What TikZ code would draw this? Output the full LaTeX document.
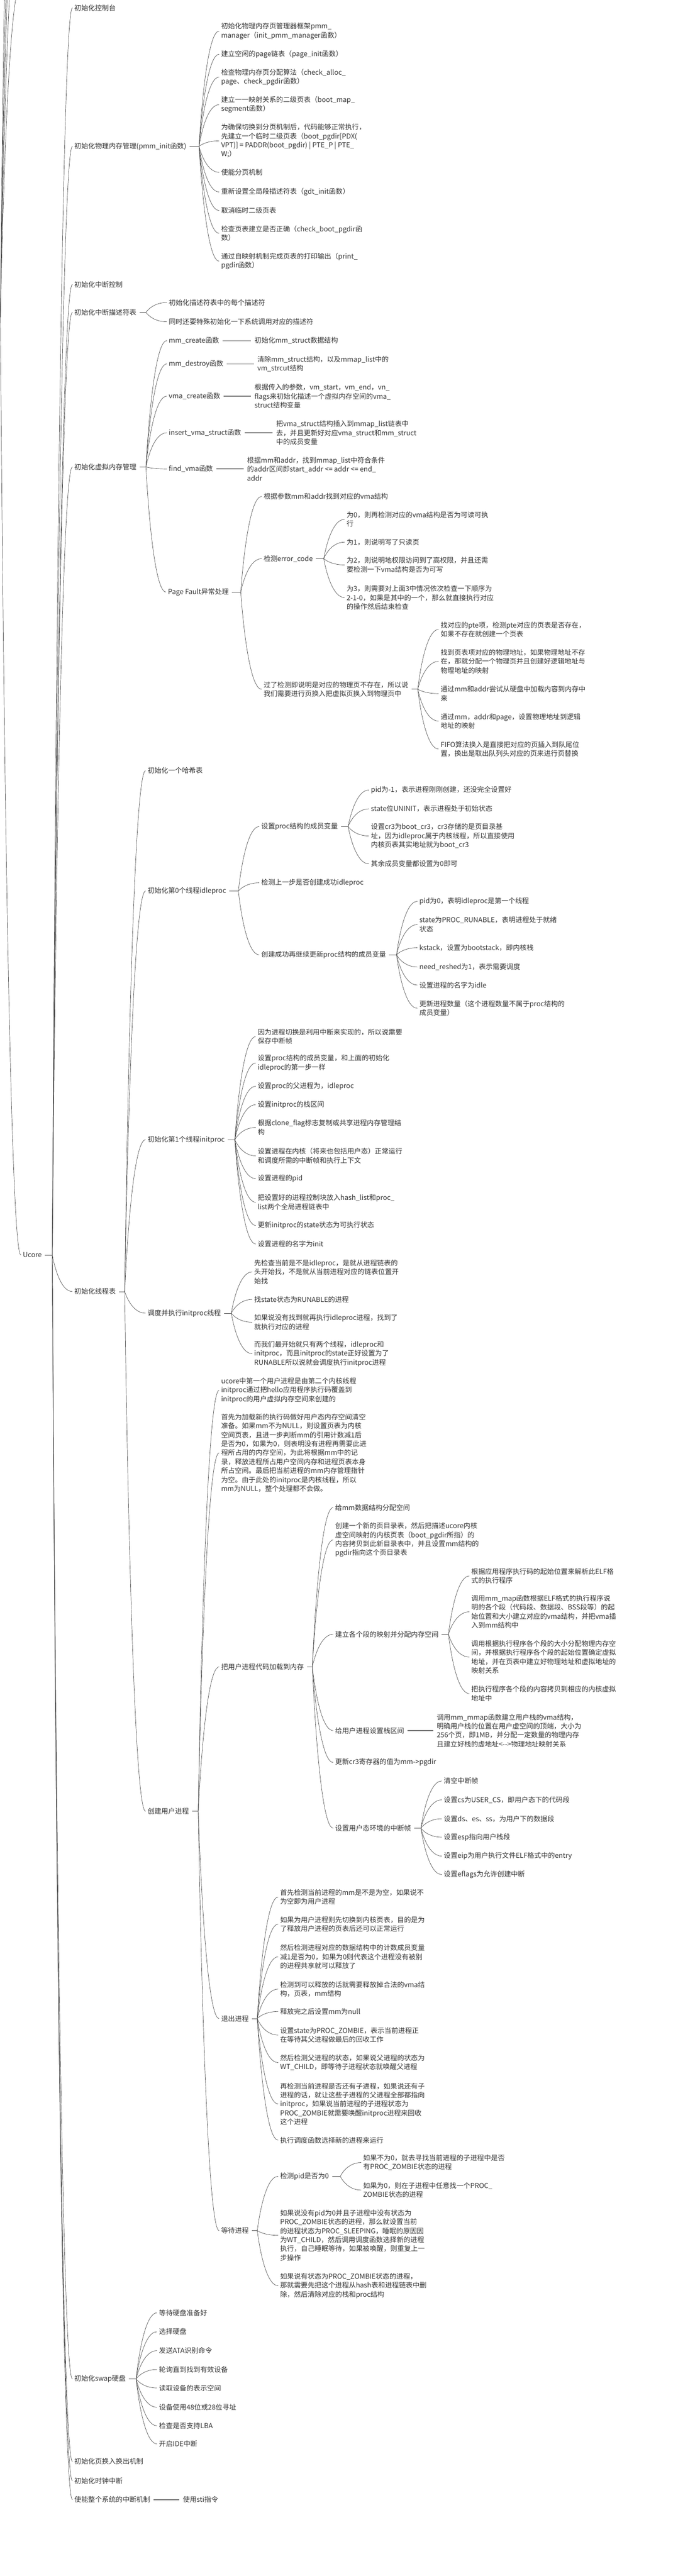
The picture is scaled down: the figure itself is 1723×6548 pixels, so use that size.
\documentclass[tikz,border=0pt]{standalone}
\usepackage{fontspec}
\setmainfont{Noto Sans CJK SC}
\usetikzlibrary{calc}
\tikzset{
  t/.style={anchor=west,inner sep=0pt,align=left,text=black!80,font=\fontsize{17.5}{22.8}\selectfont},
  conn/.style={draw=black!70,line width=0.9pt},
  single/.style={draw=black!55,line width=2pt},
  ghost/.style={inner sep=0pt,minimum size=0pt},
}
\newcommand{\stub}[2]{\draw[conn] ([xshift=8pt]#1.east) -- (#2);}
\newcommand{\cto}[2]{\draw[conn] let \p1=(#1), \p2=([xshift=-5pt]#2.west) in (\p1) .. controls (\p1) and ({\x1+0.3*(\x2-\x1)},\y2) .. (\p2);}
\newcommand{\fan}[2]{\foreach \cc in {#2} {\cto{#1}{\cc}}}
\newcommand{\one}[2]{\draw[single] ($(#1.east)+(9,0)$) -- ($(#1.east -| #2.west)+(-9,0)$);}
\begin{document}
\begin{tikzpicture}[x=1pt,y=-1pt]
\fill[white] (0,0) rectangle (1723,6548);
\useasboundingbox (0,0) rectangle (1723,6548);
\clip (0,0) rectangle (1723,6548);

% ---------- root (off-canvas parent) ----------
\coordinate (j0) at (1,806);
\draw[conn] (-20,806) -- (j0);
\node[ghost] (g1) at (58,-40) {};
\node[ghost] (g2) at (58,-270) {};
\node[ghost] (g3) at (58,-490) {};
\node[ghost] (g4) at (58,-710) {};
\node[ghost] (g5) at (58,-1070) {};
\node[t] (u) at (58,3190) {Ucore};
\fan{j0}{g1,g2,g3,g4,g5,u}

% ---------- level 1 ----------
\node[t] (a1) at (189,20) {初始化控制台};
\node[t] (a2) at (189,372) {初始化物理内存管理(pmm\_init函数)};
\node[t] (a3) at (189,723) {初始化中断控制};
\node[t] (a4) at (189,794) {初始化中断描述符表};
\node[t] (a5) at (189,1187) {初始化虚拟内存管理};
\node[t] (a6) at (189,3283) {初始化线程表};
\node[t] (a7) at (189,6047) {初始化swap硬盘};
\node[t] (a8) at (189,6257) {初始化页换入换出机制};
\node[t] (a9) at (189,6306) {初始化时钟中断};
\node[t] (a10) at (189,6354) {使能整个系统的中断机制};
\coordinate (jU) at (133,3190);
\stub{u}{jU}
\fan{jU}{a1,a2,a3,a4,a5,a6,a7,a8,a9,a10}

% ---------- pmm_init ----------
\node[t] (b1) at (562,79) {初始化物理内存页管理器框架pmm\_\\manager（init\_pmm\_manager函数）};
\node[t] (b2) at (562,138) {建立空闲的page链表（page\_init函数）};
\node[t] (b3) at (562,196) {检查物理内存页分配算法（check\_alloc\_\\page、check\_pgdir函数）};
\node[t] (b4) at (562,266) {建立一一映射关系的二级页表（boot\_map\_\\segment函数）};
\node[t] (b5) at (562,358) {为确保切换到分页机制后，代码能够正常执行，\\先建立一个临时二级页表（boot\_pgdir[PDX(\\VPT)] = PADDR(boot\_pgdir) | PTE\_P | PTE\_\\W;）};
\node[t] (b6) at (562,438) {使能分页机制};
\node[t] (b7) at (562,488) {重新设置全局段描述符表（gdt\_init函数）};
\node[t] (b8) at (562,535) {取消临时二级页表};
\node[t] (b9) at (562,593) {检查页表建立是否正确（check\_boot\_pgdir函\\数）};
\node[t] (b10) at (562,664) {通过自映射机制完成页表的打印输出（print\_\\pgdir函数）};
\coordinate (j2) at (506,372);
\stub{a2}{j2}
\fan{j2}{b1,b2,b3,b4,b5,b6,b7,b8,b9,b10}

% ---------- IDT ----------
\node[t] (c1) at (429,769) {初始化描述符表中的每个描述符};
\node[t] (c2) at (429,818) {同时还要特殊初始化一下系统调用对应的描述符};
\coordinate (j4) at (371,794);
\stub{a4}{j4}
\fan{j4}{c1,c2}

% ---------- VMM ----------
\node[t] (d1) at (429,866) {mm\_create函数};
\node[t] (d1c) at (647,866) {初始化mm\_struct数据结构};
\node[t] (d2) at (429,925) {mm\_destroy函数};
\node[t] (d2c) at (654,925) {清除mm\_struct结构，以及mmap\_list中的\\vm\_strcut结构};
\node[t] (d3) at (429,1007) {vma\_create函数};
\node[t] (d3c) at (647,1007) {根据传入的参数，vm\_start，vm\_end，vn\_\\flags来初始化描述一个虚拟内存空间的vma\_\\struct结构变量};
\node[t] (d4) at (429,1100) {insert\_vma\_struct函数};
\node[t] (d4c) at (702,1100) {把vma\_struct结构插入到mmap\_list链表中\\去，并且更新好对应vma\_struct和mm\_struct\\中的成员变量};
\node[t] (d5) at (429,1192) {find\_vma函数};
\node[t] (d5c) at (628,1192) {根据mm和addr，找到mmap\_list中符合条件\\的addr区间即start\_addr <= addr <= end\_\\addr};
\node[t] (d6) at (427,1505) {Page Fault异常处理};
\coordinate (j5) at (371,1187);
\stub{a5}{j5}
\fan{j5}{d1,d2,d3,d4,d5,d6}
\one{d1}{d1c}
\one{d2}{d2c}
\one{d3}{d3c}
\one{d4}{d4c}
\one{d5}{d5c}

\node[t] (e1) at (670,1262) {根据参数mm和addr找到对应的vma结构};
\node[t] (e2) at (670,1420) {检测error\_code};
\node[t] (e3) at (670,1752) {过了检测即说明是对应的物理页不存在，所以说\\我们需要进行页换入把虚拟页换入到物理页中};
\coordinate (j6) at (612,1505);
\stub{d6}{j6}
\fan{j6}{e1,e2,e3}

\node[t] (f1) at (881,1320) {为0，则再检测对应的vma结构是否为可读可执\\行};
\node[t] (f2) at (881,1378) {为1，则说明写了只读页};
\node[t] (f3) at (881,1436) {为2，则说明地权限访问到了高权限，并且还需\\要检测一下vma结构是否为可写};
\node[t] (f4) at (881,1519) {为3，则需要对上面3中情况依次检查一下顺序为\\2-1-0，如果是其中的一个，那么就直接执行对应\\的操作然后结束检查};
\coordinate (je2) at (823,1420);
\stub{e2}{je2}
\fan{je2}{f1,f2,f3,f4}

\node[t] (g1x) at (1120,1600) {找对应的pte项，检测pte对应的页表是否存在，\\如果不存在就创建一个页表};
\node[t] (g2x) at (1120,1681) {找到页表项对应的物理地址，如果物理地址不存\\在，那就分配一个物理页并且创建好逻辑地址与\\物理地址的映射};
\node[t] (g3x) at (1120,1763) {通过mm和addr尝试从硬盘中加载内容到内存中\\来};
\node[t] (g4x) at (1120,1833) {通过mm，addr和page，设置物理地址到逻辑\\地址的映射};
\node[t] (g5x) at (1120,1904) {FIFO算法换入是直接把对应的页插入到队尾位\\置，换出是取出队列头对应的页来进行页替换};
\coordinate (je3) at (1062,1752);
\stub{e3}{je3}
\fan{je3}{g1x,g2x,g3x,g4x,g5x}

% ---------- thread table ----------
\node[t] (h1) at (375,1959) {初始化一个哈希表};
\node[t] (h2) at (375,2265) {初始化第0个线程idleproc};
\node[t] (h3) at (375,2897) {初始化第1个线程initproc};
\node[t] (h4) at (375,3338) {调度并执行initproc线程};
\node[t] (h5) at (375,4604) {创建用户进程};
\coordinate (j6b) at (317,3283);
\stub{a6}{j6b}
\fan{j6b}{h1,h2,h3,h4,h5}

\node[t] (i1) at (664,2101) {设置proc结构的成员变量};
\node[t] (i2) at (664,2244) {检测上一步是否创建成功idleproc};
\node[t] (i3) at (664,2427) {创建成功再继续更新proc结构的成员变量};
\coordinate (jh2) at (606,2265);
\stub{h2}{jh2}
\fan{jh2}{i1,i2,i3}

\node[t] (k1) at (943,2008) {pid为-1，表示进程刚刚创建，还没完全设置好};
\node[t] (k2) at (943,2056) {state位UNINIT，表示进程处于初始状态};
\node[t] (k3) at (943,2125) {设置cr3为boot\_cr3，cr3存储的是页目录基\\址，因为idleproc属于内核线程，所以直接使用\\内核页表其实地址就为boot\_cr3};
\node[t] (k4) at (943,2196) {其余成员变量都设置为0即可};
\coordinate (ji1) at (885,2101);
\stub{i1}{ji1}
\fan{ji1}{k1,k2,k3,k4}

\node[t] (l1) at (1066,2291) {pid为0，表明idleproc是第一个线程};
\node[t] (l2) at (1066,2350) {state为PROC\_RUNABLE，表明进程处于就绪\\状态};
\node[t] (l3) at (1066,2409) {kstack，设置为bootstack，即内核栈};
\node[t] (l4) at (1066,2458) {need\_reshed为1，表示需要调度};
\node[t] (l5) at (1066,2504) {设置进程的名字为idle};
\node[t] (l6) at (1066,2563) {更新进程数量（这个进程数量不属于proc结构的\\成员变量）};
\coordinate (ji3) at (1008,2427);
\stub{i3}{ji3}
\fan{ji3}{l1,l2,l3,l4,l5,l6}

\node[t] (m1) at (655,2635) {因为进程切换是利用中断来实现的，所以说需要\\保存中断帧};
\node[t] (m2) at (655,2702) {设置proc结构的成员变量，和上面的初始化\\idleproc的第一步一样};
\node[t] (m3) at (655,2761) {设置proc的父进程为，idleproc};
\node[t] (m4) at (655,2808) {设置initproc的栈区间};
\node[t] (m5) at (655,2866) {根据clone\_flag标志复制或共享进程内存管理结\\构};
\node[t] (m6) at (655,2938) {设置进程在内核（将来也包括用户态）正常运行\\和调度所需的中断帧和执行上下文};
\node[t] (m7) at (655,2996) {设置进程的pid};
\node[t] (m8) at (655,3056) {把设置好的进程控制块放入hash\_list和proc\_\\list两个全局进程链表中};
\node[t] (m9) at (655,3115) {更新initproc的state状态为可执行状态};
\node[t] (m10) at (655,3162) {设置进程的名字为init};
\coordinate (jh3) at (597,2897);
\stub{h3}{jh3}
\fan{jh3}{m1,m2,m3,m4,m5,m6,m7,m8,m9,m10}

\node[t] (n1) at (646,3233) {先检查当前是不是idleproc，是就从进程链表的\\头开始找，不是就从当前进程对应的链表位置开\\始找};
\node[t] (n2) at (646,3303) {找state状态为RUNABLE的进程};
\node[t] (n3) at (646,3361) {如果说没有找到就再执行idleproc进程，找到了\\就执行对应的进程};
\node[t] (n4) at (646,3441) {而我们最开始就只有两个线程，idleproc和\\initproc，而且initproc的state正好设置为了\\RUNABLE所以说就会调度执行initproc进程};
\coordinate (jh4) at (588,3338);
\stub{h4}{jh4}
\fan{jh4}{n1,n2,n3,n4}

% ---------- user process ----------
\node[t] (o1) at (562,3534) {ucore中第一个用户进程是由第二个内核线程\\initproc通过把hello应用程序执行码覆盖到\\initproc的用户虚拟内存空间来创建的};
\node[t] (o2) at (562,3693) {首先为加载新的执行码做好用户态内存空间清空\\准备。如果mm不为NULL，则设置页表为内核\\空间页表，且进一步判断mm的引用计数减1后\\是否为0，如果为0，则表明没有进程再需要此进\\程所占用的内存空间，为此将根据mm中的记\\录，释放进程所占用户空间内存和进程页表本身\\所占空间。最后把当前进程的mm内存管理指针\\为空。由于此处的initproc是内核线程，所以\\mm为NULL，整个处理都不会做。};
\node[t] (o3) at (562,4237) {把用户进程代码加载到内存};
\node[t] (o4) at (562,5131) {退出进程};
\node[t] (o5) at (562,5670) {等待进程};
\coordinate (jh5) at (504,4604);
\stub{h5}{jh5}
\fan{jh5}{o1,o2,o3,o4,o5}

\node[t] (p1) at (852,3832) {给mm数据结构分配空间};
\node[t] (p2) at (852,3914) {创建一个新的页目录表，然后把描述ucore内核\\虚空间映射的内核页表（boot\_pgdir所指）的\\内容拷贝到此新目录表中，并且设置mm结构的\\pgdir指向这个页目录表};
\node[t] (p3) at (852,4154) {建立各个段的映射并分配内存空间};
\node[t] (p4) at (852,4399) {给用户进程设置栈区间};
\node[t] (p5) at (852,4480) {更新cr3寄存器的值为mm->pgdir};
\node[t] (p6) at (852,4647) {设置用户态环境的中断帧};
\coordinate (jo3) at (794,4237);
\stub{o3}{jo3}
\fan{jo3}{p1,p2,p3,p4,p5,p6}

\node[t] (q1) at (1198,4006) {根据应用程序执行码的起始位置来解析此ELF格\\式的执行程序};
\node[t] (q2) at (1198,4097) {调用mm\_map函数根据ELF格式的执行程序说\\明的各个段（代码段、数据段、BSS段等）的起\\始位置和大小建立对应的vma结构，并把vma插\\入到mm结构中};
\node[t] (q3) at (1198,4212) {调用根据执行程序各个段的大小分配物理内存空\\间，并根据执行程序各个段的起始位置确定虚拟\\地址，并在页表中建立好物理地址和虚拟地址的\\映射关系};
\node[t] (q4) at (1198,4305) {把执行程序各个段的内容拷贝到相应的内核虚拟\\地址中};
\coordinate (jp3) at (1140,4154);
\stub{p3}{jp3}
\fan{jp3}{q1,q2,q3,q4}

\node[t] (p4c) at (1110,4399) {调用mm\_mmap函数建立用户栈的vma结构，\\明确用户栈的位置在用户虚空间的顶端，大小为\\256个页，即1MB，并分配一定数量的物理内存\\且建立好栈的虚地址<-{}->物理地址映射关系};
\one{p4}{p4c}

\node[t] (r1) at (1128,4527) {清空中断帧};
\node[t] (r2) at (1128,4575) {设置cs为USER\_CS，即用户态下的代码段};
\node[t] (r3) at (1128,4623) {设置ds、es、ss，为用户下的数据段};
\node[t] (r4) at (1128,4670) {设置esp指向用户栈段};
\node[t] (r5) at (1128,4718) {设置eip为用户执行文件ELF格式中的entry};
\node[t] (r6) at (1128,4765) {设置eflags为允许创建中断};
\coordinate (jp6) at (1070,4647);
\stub{p6}{jp6}
\fan{jp6}{r1,r2,r3,r4,r5,r6}

\node[t] (w1) at (712,4822) {首先检测当前进程的mm是不是为空，如果说不\\为空即为用户进程};
\node[t] (w2) at (712,4891) {如果为用户进程则先切换到内核页表，目的是为\\了释放用户进程的页表后还可以正常运行};
\node[t] (w3) at (712,4974) {然后检测进程对应的数据结构中的计数成员变量\\减1是否为0，如果为0则代表这个进程没有被别\\的进程共享就可以释放了};
\node[t] (w4) at (712,5056) {检测到可以释放的话就需要释放掉合法的vma结\\构，页表，mm结构};
\node[t] (w5) at (712,5113) {释放完之后设置mm为null};
\node[t] (w6) at (712,5173) {设置state为PROC\_ZOMBIE，表示当前进程正\\在等待其父进程做最后的回收工作};
\node[t] (w7) at (712,5243) {然后检测父进程的状态，如果说父进程的状态为\\WT\_CHILD，即等待子进程状态就唤醒父进程};
\node[t] (w8) at (712,5348) {再检测当前进程是否还有子进程，如果说还有子\\进程的话，就让这些子进程的父进程全部都指向\\initproc，如果说当前进程的子进程状态为\\PROC\_ZOMBIE就需要唤醒initproc进程来回收\\这个进程};
\node[t] (w9) at (712,5440) {执行调度函数选择新的进程来运行};
\coordinate (jo4) at (654,5131);
\stub{o4}{jo4}
\fan{jo4}{w1,w2,w3,w4,w5,w6,w7,w8,w9}

\node[t] (v1) at (712,5532) {检测pid是否为0};
\node[t] (v2) at (712,5682) {如果说没有pid为0并且子进程中没有状态为\\PROC\_ZOMBIE状态的进程，那么就设置当前\\的进程状态为PROC\_SLEEPING，睡眠的原因因\\为WT\_CHILD，然后调用调度函数选择新的进程\\执行，自己睡眠等待，如果被唤醒，则重复上一\\步操作};
\node[t] (v3) at (712,5810) {如果说有状态为PROC\_ZOMBIE状态的进程，\\那就需要先把这个进程从hash表和进程链表中删\\除，然后清除对应的栈和proc结构};
\coordinate (jo5) at (654,5670);
\stub{o5}{jo5}
\fan{jo5}{v1,v2,v3}

\node[t] (y1) at (923,5497) {如果不为0，就去寻找当前进程的子进程中是否\\有PROC\_ZOMBIE状态的进程};
\node[t] (y2) at (923,5567) {如果为0，则在子进程中任意找一个PROC\_\\ZOMBIE状态的进程};
\coordinate (jv1) at (865,5532);
\stub{v1}{jv1}
\fan{jv1}{y1,y2}

% ---------- swap ----------
\node[t] (z1) at (404,5879) {等待硬盘准备好};
\node[t] (z2) at (404,5927) {选择硬盘};
\node[t] (z3) at (404,5975) {发送ATA识别命令};
\node[t] (z4) at (404,6023) {轮询直到找到有效设备};
\node[t] (z5) at (404,6070) {读取设备的表示空间};
\node[t] (z6) at (404,6119) {设备使用48位或28位寻址};
\node[t] (z7) at (404,6166) {检查是否支持LBA};
\node[t] (z8) at (404,6212) {开启IDE中断};
\coordinate (ja7) at (346,6047);
\stub{a7}{ja7}
\fan{ja7}{z1,z2,z3,z4,z5,z6,z7,z8}

\node[t] (a10c) at (465,6354) {使用sti指令};
\one{a10}{a10c}
\end{tikzpicture}
\end{document}
